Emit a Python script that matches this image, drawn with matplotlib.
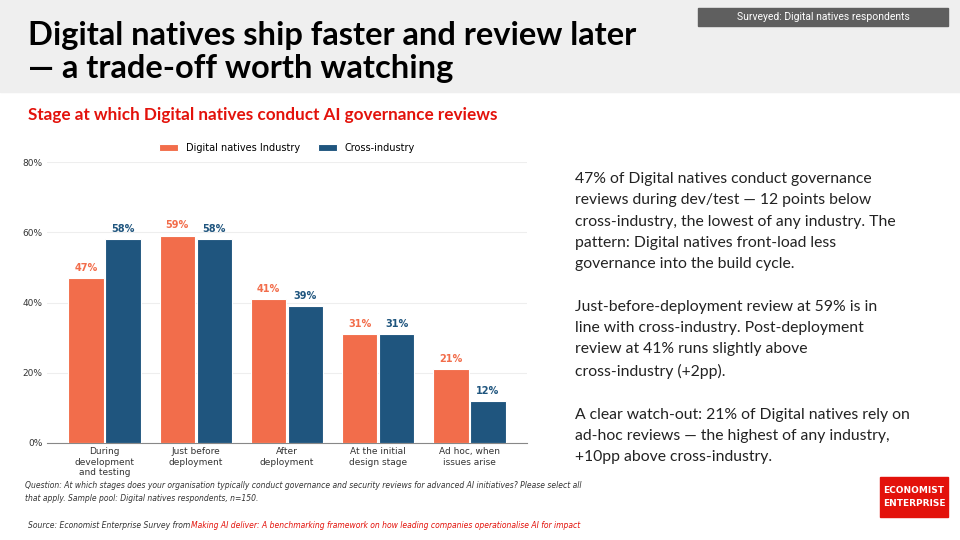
import matplotlib
matplotlib.use("Agg")
import matplotlib.pyplot as plt
import numpy as np
from matplotlib.patches import Rectangle

categories = ["During\ndevelopment\nand testing", "Just before\ndeployment", "After\ndeployment",
              "At the initial\ndesign stage", "Ad hoc, when\nissues arise"]
digital = [47, 59, 41, 31, 21]
cross = [58, 58, 39, 31, 12]
yticks = [0, 20, 40, 60, 80]

ORANGE = "#f26d4b"
BLUE = "#1f557e"
plt.rcParams['font.family'] = ['DejaVu Sans']

fig = plt.figure(figsize=(9.6, 5.4), dpi=100)
W, H = 960, 540
def fx(x): return x / W
def fy(y): return 1 - y / H

fig.patches.append(Rectangle((0, fy(92)), 1, 92 / H, transform=fig.transFigure, color="#efefef", zorder=0))
fig.patches.append(Rectangle((fx(698), fy(26)), 250 / W, 18 / H, transform=fig.transFigure, color="#5f5f5f", zorder=1))
fig.text(fx(823), fy(17), "Surveyed: Digital natives respondents", color="white", fontsize=7.5,
         ha="center", va="center", family="Roboto")
fig.text(fx(28), fy(52), "Digital natives ship faster and review later\n— a trade-off worth watching",
         fontsize=23.5, fontweight="bold", va="center", ha="left", family="Lato", linespacing=1.2)
fig.text(fx(28), fy(115), "Stage at which Digital natives conduct AI governance reviews",
         fontsize=12.3, fontweight="bold", color="#e3120b", va="center", family="Lato")

ax = fig.add_axes([fx(47), fy(443), (527 - 47) / W, (443 - 162) / H])
x = np.arange(len(categories))
w = 0.385
b1 = ax.bar(x - w / 2 - 0.01, digital, w, color=ORANGE, edgecolor="white", linewidth=0.8, label="Digital natives Industry", zorder=3)
b2 = ax.bar(x + w / 2 + 0.01, cross, w, color=BLUE, edgecolor="white", linewidth=0.8, label="Cross-industry", zorder=3)
for bars, vals, c in [(b1, digital, ORANGE), (b2, cross, BLUE)]:
    for b, v in zip(bars, vals):
        ax.text(b.get_x() + b.get_width() / 2, v + 1.5, f"{v}%", ha="center", va="bottom",
                fontsize=7, fontweight="bold", color=c)
ax.set_xlim(-0.63, 4.63)
ax.set_ylim(0, 80)
ax.set_yticks(yticks)
ax.set_yticklabels([f"{t}%" for t in yticks], fontsize=6.5, color="#333333")
ax.set_xticks(x)
ax.set_xticklabels(categories, fontsize=6.5, color="#333333")
ax.tick_params(length=0, pad=3)
ax.grid(axis="y", color="#eeeeee", linewidth=0.8, zorder=0)
for s in ["top", "right", "left"]:
    ax.spines[s].set_visible(False)
ax.spines["bottom"].set_color("#888888")
ax.legend(loc="lower center", bbox_to_anchor=(0.5, 1.0), ncol=2, frameon=False, fontsize=7,
          handlelength=2, handleheight=0.7, columnspacing=1.8)

body = ("47% of Digital natives conduct governance\nreviews during dev/test — 12 points below\n"
        "cross-industry, the lowest of any industry. The\npattern: Digital natives front-load less\n"
        "governance into the build cycle.\n\n"
        "Just-before-deployment review at 59% is in\nline with cross-industry. Post-deployment\n"
        "review at 41% runs slightly above\ncross-industry (+2pp).\n\n"
        "A clear watch-out: 21% of Digital natives rely on\nad-hoc reviews — the highest of any industry,\n"
        "+10pp above cross-industry.")
fig.text(fx(575), fy(172), body, fontsize=11.3, va="top", ha="left", family="Lato", linespacing=1.66, color="#222222")

fig.text(fx(25), fy(492), "Question: At which stages does your organisation typically conduct governance and security reviews for advanced AI initiatives? Please select all\nthat apply. Sample pool: Digital natives respondents, n=150.",
         fontsize=5.5, style="italic", va="center", color="#333333", linespacing=1.6)
fig.text(fx(28), fy(525), "Source: Economist Enterprise Survey from", fontsize=5.5, style="italic", va="center", color="#333333")
fig.text(fx(191), fy(525), "Making AI deliver: A benchmarking framework on how leading companies operationalise AI for impact",
         fontsize=5.5, style="italic", va="center", color="#e3120b")
fig.patches.append(Rectangle((fx(880), fy(517)), 68 / W, 40 / H, transform=fig.transFigure, color="#e3120b", zorder=1))
fig.text(fx(914), fy(497), "ECONOMIST\nENTERPRISE", color="white", fontsize=6.5, fontweight="bold",
         ha="center", va="center", linespacing=1.5)

fig.savefig("out.png", dpi=100)
